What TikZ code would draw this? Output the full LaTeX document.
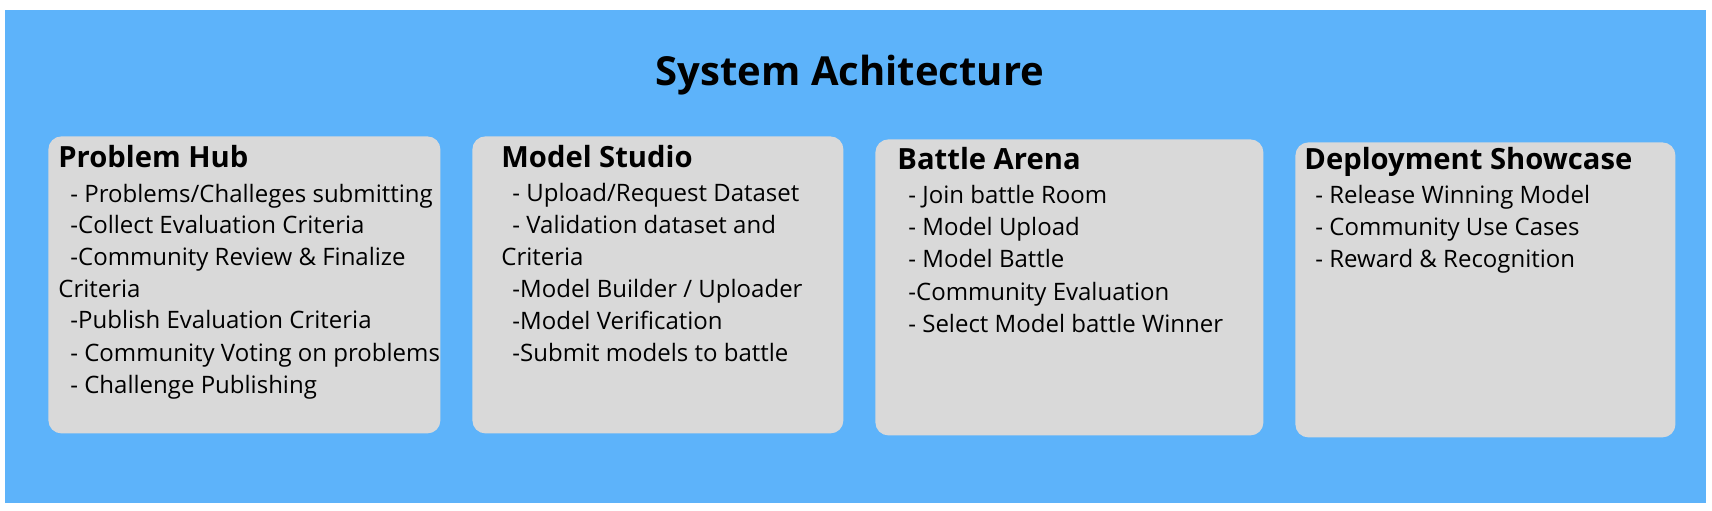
\documentclass[tikz,border=0pt]{standalone}
\usepackage{fontspec}
\setmainfont{Open Sans}
\definecolor{bgblue}{RGB}{93,179,250}
\definecolor{boxgray}{RGB}{217,217,217}
\begin{document}
\begin{tikzpicture}[x=0.5pt,y=-0.5pt,
  panel/.style={fill=boxgray, draw=none, rounded corners=6.5pt, inner sep=0pt, anchor=north west},
  head/.style={anchor=base west, inner sep=0pt, font=\fontsize{14.6}{17}\bfseries\selectfont},
  item/.style={anchor=base west, inner sep=0pt, font=\fontsize{12}{14}\selectfont},
  ttl/.style={anchor=base, inner sep=0pt, font=\fontsize{20}{24}\bfseries\selectfont}]
\useasboundingbox (0,0) rectangle (1712,510);
\fill[white] (0,0) rectangle (1712,510);
\node[fill=bgblue, draw=none, inner sep=0pt, anchor=north west, minimum width=850.5pt, minimum height=246.5pt] (bg) at (5,10) {};
\node[ttl] (title) at (850,85) {System Achitecture};
% panels
\node[panel, minimum width=196pt, minimum height=148.5pt] (p1) at (48,136) {};
\node[panel, minimum width=185.5pt, minimum height=148.5pt] (p2) at (472,136) {};
\node[panel, minimum width=194pt, minimum height=148pt] (p3) at (875,139) {};
\node[panel, minimum width=190pt, minimum height=147.5pt] (p4) at (1295,142) {};
% panel 1
\node[head] (h1) at (58,167) {Problem Hub};
\node[item] (a1) at (70,202) {- Problems/Challeges submitting};
\node[item] (a2) at (70,233.5) {-Collect Evaluation Criteria};
\node[item] (a3) at (70,265) {-Community Review \& Finalize};
\node[item] (a4) at (58,297) {Criteria};
\node[item] (a5) at (70,328.5) {-Publish Evaluation Criteria};
\node[item] (a6) at (70,361) {- Community Voting on problems};
\node[item] (a7) at (70,393) {- Challenge Publishing};
% panel 2
\node[head] (h2) at (501,167) {Model Studio};
\node[item] (b1) at (512,201) {- Upload/Request Dataset};
\node[item] (b2) at (512,233) {- Validation dataset and};
\node[item] (b3) at (501,265) {Criteria};
\node[item] (b4) at (512,297) {-Model Builder / Uploader};
\node[item] (b5) at (512,329) {-Model Verification};
\node[item] (b6) at (512,361) {-Submit models to battle};
% panel 3
\node[head] (h3) at (897,169) {Battle Arena};
\node[item] (c1) at (908,203) {- Join battle Room};
\node[item] (c2) at (908,235) {- Model Upload};
\node[item] (c3) at (908,267.5) {- Model Battle};
\node[item] (c4) at (908,300) {-Community Evaluation};
\node[item] (c5) at (908,332) {- Select Model battle Winner};
% panel 4
\node[head] (h4) at (1304,169) {Deployment Showcase};
\node[item] (d1) at (1315,203) {- Release Winning Model};
\node[item] (d2) at (1315,235) {- Community Use Cases};
\node[item] (d3) at (1315,267.5) {- Reward \& Recognition};
\end{tikzpicture}
\end{document}
